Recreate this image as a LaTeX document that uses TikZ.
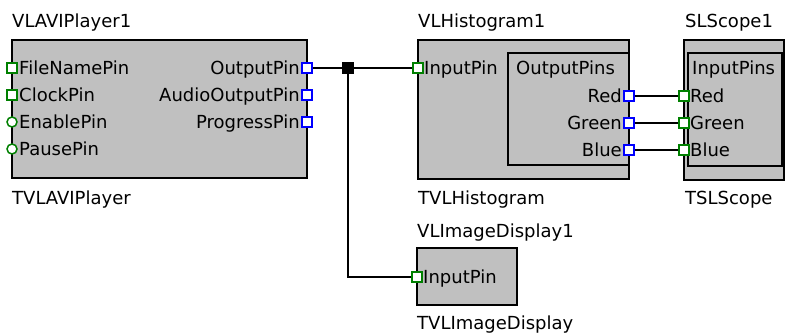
\documentclass[tikz,border=0pt]{standalone}
\usepackage{fontspec}
\setmainfont{DejaVu Sans}
\definecolor{boxgray}{RGB}{192,192,192}
\definecolor{pingreen}{RGB}{0,128,0}
\definecolor{pinblue}{RGB}{0,0,255}

\begin{document}
\begin{tikzpicture}[x=1pt, y=-1pt,
  every node/.style={font=\fontsize{18}{21}\selectfont},
  blk/.style={draw=black, line width=1.7pt, fill=boxgray, anchor=north west,
    inner sep=0pt, outer sep=0pt},
  sub/.style={draw=black, line width=1.4pt, anchor=north west,
    inner sep=0pt, outer sep=0pt},
  pinsq/.style={rectangle, fill=white, line width=1.5pt, minimum size=10pt, inner sep=0pt},
  inpin/.style={pinsq, draw=pingreen},
  outpin/.style={pinsq, draw=pinblue},
  ctlpin/.style={circle, draw=pingreen, fill=white, line width=1.5pt,
    minimum size=10pt, inner sep=0pt},
  txt/.style={inner sep=0pt, anchor=base west},
  rtxt/.style={inner sep=0pt, anchor=base east},
  jn/.style={fill=black, minimum size=12pt, inner sep=0pt},
  wire/.style={line width=1.4pt}]

\useasboundingbox (0,0) rectangle (787,336);

% --- Blocks ---
\node[blk, minimum width=295pt, minimum height=138pt] (avi) at (12,40) {};
\node[blk, minimum width=211pt, minimum height=139pt] (hist) at (418,40) {};
\node[sub, minimum width=121pt, minimum height=112pt] (histOut) at (508,53) {};
\node[blk, minimum width=100pt, minimum height=140pt] (scope) at (684,40) {};
\node[sub, minimum width=94pt, minimum height=113pt] (scopeIn) at (688,53) {};
\node[blk, minimum width=100pt, minimum height=57pt] (img) at (417,248) {};

% --- Names above and types below ---
\node[txt] (aviName) at (12,28) {VLAVIPlayer1};
\node[txt] (aviType) at (12,205) {TVLAVIPlayer};
\node[txt] (histName) at (418,28) {VLHistogram1};
\node[txt] (histType) at (418,205) {TVLHistogram};
\node[txt] (scopeName) at (685,28) {SLScope1};
\node[txt] (scopeType) at (685,205) {TSLScope};
\node[txt] (imgName) at (417,238) {VLImageDisplay1};
\node[txt] (imgType) at (417,330) {TVLImageDisplay};

% --- VLAVIPlayer1 pins ---
\foreach \n/\t/\y in {File/FileNamePin/68, Clock/ClockPin/95} {
  \node[inpin] (avi\n) at (12,\y) {};
  \node[txt] (avi\n-t) at (19,\y+7) {\t};
}
\foreach \n/\t/\y in {Enable/EnablePin/122, Pause/PausePin/149} {
  \node[ctlpin] (avi\n) at (12,\y) {};
  \node[txt] (avi\n-t) at (19,\y+7) {\t};
}
\foreach \n/\t/\y in {Out/OutputPin/68, Audio/AudioOutputPin/95, Prog/ProgressPin/122} {
  \node[outpin] (avi\n) at (307,\y) {};
  \node[rtxt] (avi\n-t) at (300,\y+7) {\t};
}

% --- VLHistogram1 pins ---
\node[inpin] (histIn) at (418,68) {};
\node[txt] (histIn-t) at (424,75) {InputPin};
\node[txt] (histOut-t) at (516,75) {OutputPins};
\foreach \n/\y in {Red/96, Green/123, Blue/150} {
  \node[outpin] (hist\n) at (629,\y) {};
  \node[rtxt] (hist\n-t) at (622,\y+7) {\n};
}

% --- SLScope1 pins ---
\node[txt] (scopeIn-t) at (692,75) {InputPins};
\foreach \n/\y in {Red/96, Green/123, Blue/150} {
  \node[inpin] (scope\n) at (684,\y) {};
  \node[txt] (scope\n-t) at (690,\y+7) {\n};
}

% --- VLImageDisplay1 pin ---
\node[inpin] (imgIn) at (417,277) {};
\node[txt] (imgIn-t) at (423,284) {InputPin};

% --- Wires ---
\node[jn] (split) at (348,68) {};
\draw[wire] (aviOut) -- (split) -- (histIn);
\draw[wire] (split) |- (imgIn);
\foreach \n in {Red, Green, Blue} {
  \draw[wire] (hist\n) -- (scope\n);
}

\end{tikzpicture}
\end{document}
